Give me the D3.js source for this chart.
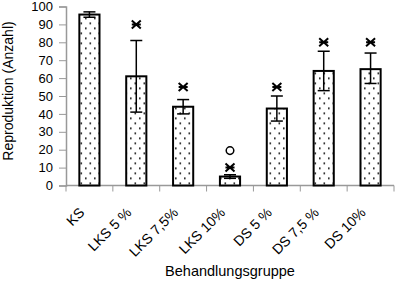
<!DOCTYPE html>
<html>
<head>
<meta charset="utf-8">
<script src="https://cdn.jsdelivr.net/npm/d3@7"></script>
<style>
    body { margin: 0; background: #fff; }
    svg text { font-family: "Liberation Sans", Arial, sans-serif; fill: #000; }
</style>
</head>
<body>
<div id="chart"></div>
<script>
// Data
const groups = ["KS", "LKS 5 %", "LKS 7,5%", "LKS 10%", "DS 5 %", "DS 7,5 %", "DS 10%"];
const means = [95.5, 61, 44, 5, 43, 64, 65];
const errLow = [94, 41, 40, 4, 36, 53, 57];
const errHigh = [97, 81, 48, 6, 50, 75, 74];
const starMarks = [null, 90, 55, 10, 55, 80, 80];
const circleMarks = [null, null, null, 19.5, null, null, null];
const yTicks = [0, 10, 20, 30, 40, 50, 60, 70, 80, 90, 100];

let margin = {top: 6.5, right: 2, bottom: 95.5, left: 66};
let width = 396 - margin.left - margin.right;
let height = 281 - margin.top - margin.bottom;

let svg = d3.select("#chart").append("svg")
    .attr("width", 396)
    .attr("height", 281);

// dotted fill for the bars
let pat = svg.append("defs").append("pattern")
    .attr("id", "dots")
    .attr("patternUnits", "userSpaceOnUse")
    .attr("width", 9)
    .attr("height", 10);
pat.append("rect").attr("width", 9).attr("height", 10).attr("fill", "#fff");
pat.append("rect").attr("x", 1).attr("y", 1).attr("width", 1.6).attr("height", 1.6).attr("fill", "#000");
pat.append("rect").attr("x", 5.5).attr("y", 6).attr("width", 1.6).attr("height", 1.6).attr("fill", "#000");

let g = svg.append("g")
    .attr("transform", `translate(${margin.left}, ${margin.top})`);

// Scales
let x = d3.scaleBand()
    .domain(groups)
    .range([0, width])
    .paddingInner(0.57)
    .paddingOuter(0.285);
let step = width / groups.length;
let y = d3.scaleLinear()
    .domain([0, 100])
    .range([height, 0]);

// Y axis
let yAxis = d3.axisLeft(y)
    .tickValues(yTicks)
    .tickSize(7)
    .tickPadding(6);
let yg = g.append("g").attr("class", "y-axis").call(yAxis);
yg.select(".domain").attr("stroke", "#999").attr("stroke-width", 1.5);
yg.selectAll(".tick line").attr("stroke", "#999");
yg.selectAll("text").style("font-size", "13px");

// X axis: ticks sit on the band boundaries
let xg = g.append("g").attr("transform", `translate(0, ${height})`);
xg.append("line")
    .attr("x1", 0).attr("x2", width)
    .attr("stroke", "#999").attr("stroke-width", 1.5);
xg.selectAll(".xtick")
    .data(d3.range(groups.length + 1))
    .enter().append("line")
    .attr("x1", d => d * step).attr("x2", d => d * step)
    .attr("y1", 0).attr("y2", 6)
    .attr("stroke", "#999");
xg.selectAll(".xlabel")
    .data(groups)
    .enter().append("text")
    .attr("text-anchor", "end")
    .attr("transform", d => `translate(${x(d) + x.bandwidth() / 2 - 4}, 28) rotate(-45)`)
    .style("font-size", "14px")
    .text(d => d);

// Bars
g.selectAll(".bar")
    .data(groups)
    .enter().append("rect")
    .attr("x", d => x(d))
    .attr("y", (d, i) => y(means[i]))
    .attr("width", x.bandwidth())
    .attr("height", (d, i) => height - y(means[i]))
    .attr("fill", "url(#dots)")
    .attr("stroke", "#000")
    .attr("stroke-width", 2);

// Error bars
let eg = g.selectAll(".err")
    .data(groups)
    .enter().append("g")
    .attr("transform", d => `translate(${x(d) + x.bandwidth() / 2}, 0)`);
eg.append("line")
    .attr("y1", (d, i) => y(errLow[i])).attr("y2", (d, i) => y(errHigh[i]))
    .attr("stroke", "#000").attr("stroke-width", 1.5);
eg.append("line")
    .attr("x1", -6).attr("x2", 6)
    .attr("y1", (d, i) => y(errHigh[i])).attr("y2", (d, i) => y(errHigh[i]))
    .attr("stroke", "#000").attr("stroke-width", 1.5);
eg.append("line")
    .attr("x1", -6).attr("x2", 6)
    .attr("y1", (d, i) => y(errLow[i])).attr("y2", (d, i) => y(errLow[i]))
    .attr("stroke", "#000").attr("stroke-width", 1.5);

// Significance stars
g.selectAll(".star")
    .data(groups.filter((d, i) => starMarks[i] != null))
    .enter().append("path")
    .attr("transform", d => `translate(${x(d) + x.bandwidth() / 2}, ${y(starMarks[groups.indexOf(d)])})`)
    .attr("d", "M-4.5,-4L4.5,4M-4.5,4L4.5,-4M-4.5,0L4.5,0")
    .attr("stroke", "#000")
    .attr("stroke-width", 2)
    .attr("fill", "none");

// Open circles
g.selectAll(".circ")
    .data(groups.filter((d, i) => circleMarks[i] != null))
    .enter().append("circle")
    .attr("cx", d => x(d) + x.bandwidth() / 2)
    .attr("cy", d => y(circleMarks[groups.indexOf(d)]))
    .attr("r", 3.8)
    .attr("fill", "none")
    .attr("stroke", "#000")
    .attr("stroke-width", 1.5);

// Axis titles
svg.append("text")
    .attr("text-anchor", "middle")
    .attr("x", margin.left + width / 2)
    .attr("y", 276)
    .style("font-size", "14.5px")
    .text("Behandlungsgruppe");

svg.append("text")
    .attr("text-anchor", "middle")
    .attr("transform", `translate(13, 91) rotate(-90)`)
    .style("font-size", "14px")
    .text("Reproduktion (Anzahl)");
</script>
</body>
</html>
